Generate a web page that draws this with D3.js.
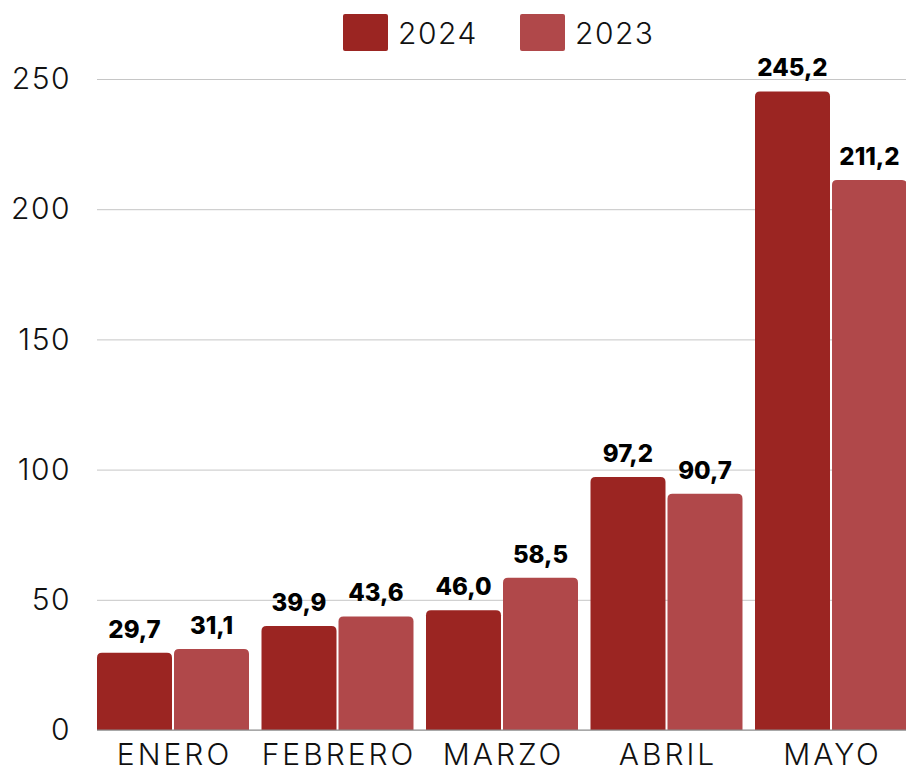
<meta charset="utf-8">
<script src="https://d3js.org/d3.v7.min.js"></script>
<style>
  body { margin: 0; background: #fff; }
  svg text { font-family: Inter, "Noto Sans", sans-serif; }
</style>
<div id="chart"></div>
<script>
// data
const months = ["ENERO", "FEBRERO", "MARZO", "ABRIL", "MAYO"];
const series = ["2024", "2023"];
const values2024 = [29.7, 39.9, 46.0, 97.2, 245.2];
const values2023 = [31.1, 43.6, 58.5, 90.7, 211.2];
const yTicks = [0, 50, 100, 150, 200, 250];
const colors = ["#9b2522", "#b0484a"];

const width = 906, height = 771;
const svg = d3.select("#chart").append("svg")
  .attr("width", width).attr("height", height);

const rows = months.map((m, i) => ({ month: m, vals: [values2024[i], values2023[i]] }));

// scales
const x = d3.scaleBand().domain(months).range([90.75, 913.25])
  .paddingInner(0.076).paddingOuter(0.038);
const x1 = d3.scaleBand().domain(series).range([0, x.bandwidth()]).paddingInner(0.026);
const y = d3.scaleLinear().domain([0, 250]).range([730, 79]);

// grid + y labels
const yAxis = svg.append("g")
  .attr("transform", "translate(97,0)")
  .call(d3.axisLeft(y).tickValues(yTicks).tickSize(-(width - 97)).tickPadding(26));
yAxis.select(".domain").remove();
yAxis.selectAll(".tick line").attr("stroke", "#c6c6c6").attr("stroke-width", 1);
yAxis.selectAll(".tick text")
  .attr("fill", "#111").style("font-size", "30px").style("font-weight", 300)
  .style("letter-spacing", "1.5px");

// bars
const fmt = v => d3.format(".1f")(v).replace(".", ",");
function topRounded(x0, y0, w, h, r) {
  return `M${x0},${y0 + h}V${y0 + r}Q${x0},${y0} ${x0 + r},${y0}H${x0 + w - r}Q${x0 + w},${y0} ${x0 + w},${y0 + r}V${y0 + h}Z`;
}
const groups = svg.append("g").selectAll("g").data(rows).join("g")
  .attr("transform", d => `translate(${x(d.month)},0)`);

groups.selectAll("path").data(d => d.vals.map((v, i) => ({ key: series[i], v, i }))).join("path")
  .attr("d", d => topRounded(x1(d.key), y(d.v), x1.bandwidth(), y(0) - y(d.v), 5))
  .attr("fill", d => colors[d.i]);

groups.selectAll("text").data(d => d.vals.map((v, i) => ({ key: series[i], v, i }))).join("text")
  .attr("x", d => x1(d.key) + x1.bandwidth() / 2)
  .attr("y", d => y(d.v) - 15)
  .attr("text-anchor", "middle")
  .style("font-size", "24px").style("font-weight", 800).attr("fill", "#000")
  .text(d => fmt(d.v));

// baseline
svg.append("line").attr("x1", 97).attr("x2", width).attr("y1", y(0)).attr("y2", y(0))
  .attr("stroke", "#8a8a8a").attr("stroke-width", 1);

// x labels
const xAxis = svg.append("g").attr("transform", `translate(0,${y(0)})`)
  .call(d3.axisBottom(x).tickSize(0).tickPadding(14));
xAxis.select(".domain").remove();
xAxis.selectAll(".tick text").attr("fill", "#111")
  .attr("dx", "1.5px")
  .style("font-size", "30px").style("font-weight", 300).style("letter-spacing", "3px");

// legend
const legend = svg.append("g");
const legX = [343, 520];
series.forEach((s, i) => {
  legend.append("rect").attr("x", legX[i]).attr("y", 14).attr("width", 45).attr("height", 37)
    .attr("rx", 2).attr("fill", colors[i]);
  legend.append("text").attr("x", legX[i] + 55).attr("y", 33).attr("dy", "0.35em")
    .style("font-size", "30px").style("font-weight", 300).style("letter-spacing", "1.5px")
    .attr("fill", "#111").text(s);
});
</script>
